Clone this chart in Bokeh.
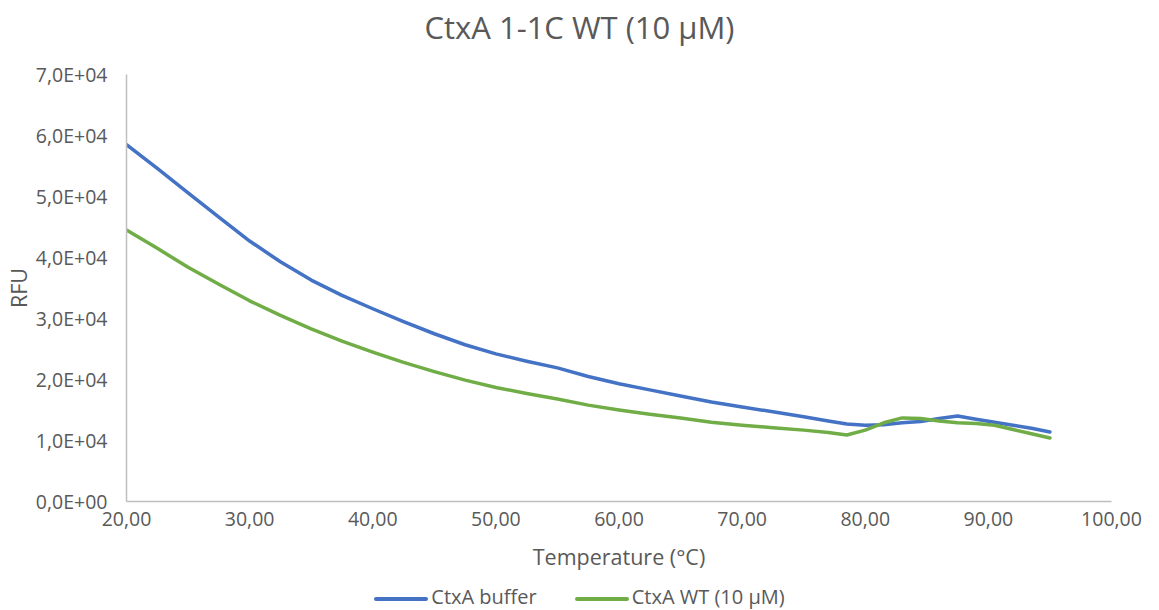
from bokeh.plotting import figure
from bokeh.models import Range1d, FixedTicker, Div
from bokeh.layouts import column
from bokeh.embed import file_html
from bokeh.resources import INLINE

# Temperature (°C)
temps = [20, 22.5, 25, 27.5, 30, 32.5, 35, 37.5, 40, 42.5, 45, 47.5, 50, 52.5,
         55, 57.5, 60, 62.5, 65, 67.5, 70, 72.5, 75, 77, 78.5, 80, 81.5, 83,
         84.5, 86, 87.5, 89, 90.5, 92, 93.5, 95]

# RFU, CtxA buffer
buffer_rfu = [58500, 54600, 50600, 46600, 42700, 39300, 36300, 33800, 31600, 29500,
              27500, 25700, 24200, 23000, 21900, 20500, 19300, 18300, 17300, 16300,
              15500, 14700, 13900, 13200, 12700, 12500, 12600, 12900, 13100, 13600,
              14000, 13500, 13000, 12500, 12000, 11400]

# RFU, CtxA WT (10 µM)
wt_rfu = [44500, 41500, 38400, 35600, 32900, 30500, 28300, 26300, 24500, 22800,
          21300, 19900, 18700, 17700, 16800, 15800, 15000, 14300, 13700, 13000,
          12500, 12100, 11700, 11300, 10900, 11700, 12900, 13700, 13600, 13200,
          12900, 12800, 12500, 11800, 11100, 10400]

series_names = ["CtxA buffer", "CtxA WT (10 µM)"]
series_colors = ["#4472C4", "#70AD47"]

x_ticks = [20, 30, 40, 50, 60, 70, 80, 90, 100]
x_tick_labels = ["20,00", "30,00", "40,00", "50,00", "60,00", "70,00", "80,00", "90,00", "100,00"]
y_ticks = [0, 10000, 20000, 30000, 40000, 50000, 60000, 70000]
y_tick_labels = ["0,0E+00", "1,0E+04", "2,0E+04", "3,0E+04", "4,0E+04", "5,0E+04", "6,0E+04", "7,0E+04"]

TXT = "#595959"
FONT = "Open Sans"
TITLE = "CtxA 1-1C WT (10 µM)"

title_div = Div(text=TITLE, width=1159, height=58, margin=0,
                styles={"font-family": FONT, "font-size": "31px", "color": TXT,
                        "text-align": "center", "line-height": "55px", "width": "1159px",
                        "white-space": "nowrap"})

p = figure(frame_width=985, frame_height=427, output_backend="svg", toolbar_location=None,
           x_range=Range1d(20, 100), y_range=Range1d(0, 70000),
           min_border_left=126, min_border_right=48, min_border_top=16, min_border_bottom=82,
           outline_line_color=None, margin=0)

p.xgrid.visible = False
p.ygrid.visible = False

for ax in (p.xaxis[0], p.yaxis[0]):
    ax.axis_line_color = "#BFBFBF"
    ax.axis_line_width = 1.5
    ax.major_tick_out = 0
    ax.major_tick_in = 0
    ax.minor_tick_out = 0
    ax.minor_tick_in = 0
    ax.major_label_text_font = FONT
    ax.major_label_text_font_size = "19.5px"
    ax.major_label_text_color = TXT
    ax.axis_label_text_font = FONT
    ax.axis_label_text_font_size = "21.5px"
    ax.axis_label_text_font_style = "normal"
    ax.axis_label_text_color = TXT

p.xaxis.ticker = FixedTicker(ticks=x_ticks)
p.xaxis.major_label_overrides = dict(zip(x_ticks, x_tick_labels))
p.yaxis.ticker = FixedTicker(ticks=y_ticks)
p.yaxis.major_label_overrides = dict(zip(y_ticks, y_tick_labels))
p.xaxis.axis_label = "Temperature (°C)"
p.yaxis.axis_label = "RFU"
p.xaxis.major_label_standoff = 10
p.yaxis.major_label_standoff = 19
p.xaxis.axis_label_standoff = 13
p.yaxis.axis_label_standoff = 0

p.line(temps, buffer_rfu, line_color=series_colors[0], line_width=3.5, line_join="round", line_cap="round")
p.line(temps, wt_rfu, line_color=series_colors[1], line_width=3.5, line_join="round", line_cap="round")

key = ('<span style="display:inline-block;width:54px;height:4px;border-radius:2px;'
       'background:{c};vertical-align:middle;margin-right:3px"></span>{t}')
gap = '<span style="display:inline-block;width:38px"></span>'
legend_html = gap.join(key.format(c=c, t=t) for c, t in zip(series_colors, series_names))
legend_div = Div(text=legend_html, width=1149, height=27, margin=0,
                 styles={"font-family": FONT, "font-size": "20px", "color": TXT,
                         "text-align": "center", "line-height": "27px", "width": "1149px",
                         "padding-left": "10px", "white-space": "nowrap"})

layout = column(title_div, p, legend_div, spacing=0, margin=0)
open("out.html", "w").write(file_html(layout, INLINE))
